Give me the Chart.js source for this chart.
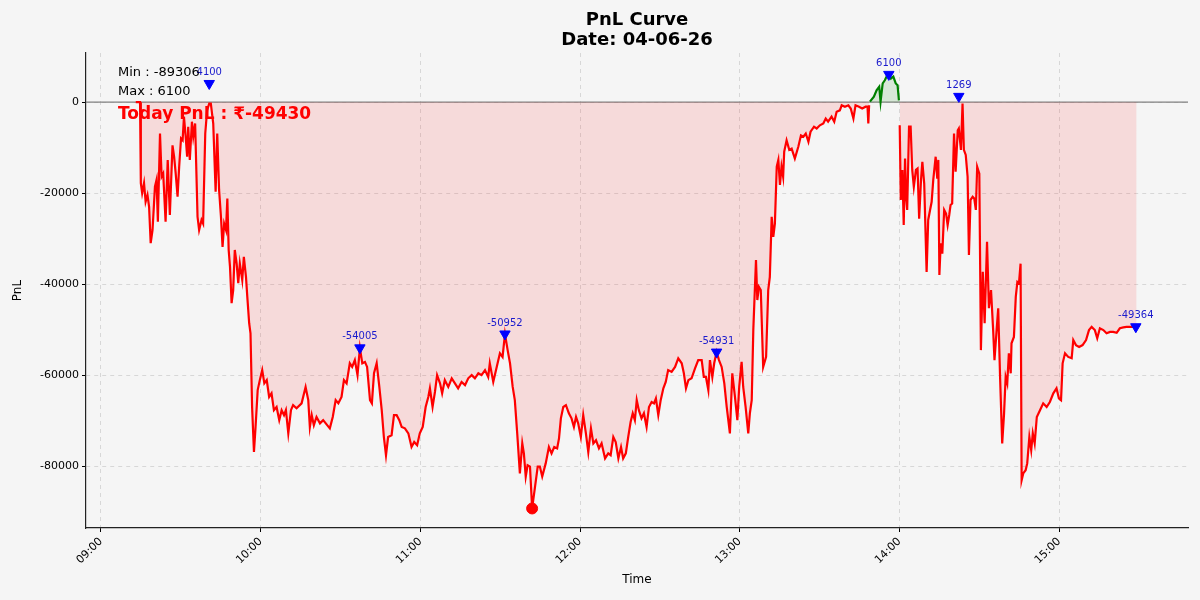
<!DOCTYPE html>
<html>
<head>
<meta charset="utf-8">
<script src="https://cdn.jsdelivr.net/npm/chart.js@4.4.1/dist/chart.umd.min.js"></script>
<style>
  html, body { margin: 0; padding: 0; background: #f5f5f5; }
  #wrap { width: 1200px; height: 600px; }
</style>
</head>
<body>
<div id="wrap"><canvas id="pnl-chart"></canvas></div>
<script>
// minutes after 09:00 and PnL at that moment
const minutes = [
  13.1, 14.7, 15.0, 15.5, 16.2, 16.8, 17.5, 18.1, 18.7, 19.4, 20.3, 20.9, 21.4, 22.2, 22.8, 23.4, 24.3, 25.1, 25.9, 26.9,
  27.5, 28.1, 28.8, 29.4, 30.1, 30.7, 31.2, 31.8, 32.4, 32.8, 33.4, 34.2, 34.7, 35.4, 36.3, 36.9, 37.8, 38.4, 39.2, 39.9,
  40.7, 41.3, 42.2, 43.1, 43.7, 44.4, 45.1, 45.7, 46.3, 47.0, 47.5, 48.0, 48.5, 49.1, 49.7, 50.3, 51.0, 51.6, 52.2, 53.1,
  53.7, 54.5, 55.0, 55.7, 56.2, 56.8, 57.5, 58.1, 58.9, 59.7, 60.6, 61.4, 62.3, 63.2, 64.1, 65.0, 66.0, 67.0, 67.9, 68.8,
  69.5, 70.4, 71.4, 72.2, 73.5, 75.4, 76.9, 77.9, 78.5, 79.2, 80.0, 81.0, 82.3, 83.5, 85.0, 86.0, 87.1, 88.2, 89.2, 90.4,
  91.3, 92.3, 93.5, 94.4, 95.4, 96.4, 97.3, 98.2, 99.2, 100.0, 101.1, 101.8, 102.6, 103.6, 104.6, 105.5, 106.3, 107.1, 107.9, 109.2,
  110.1, 111.1, 112.1, 113.0, 114.2, 115.5, 116.7, 117.7, 118.8, 119.8, 120.9, 122.0, 123.0, 123.6, 124.6, 125.5, 126.3, 127.4, 128.2, 129.2,
  130.5, 131.8, 133.0, 134.2, 135.5, 136.8, 138.0, 139.3, 140.5, 141.8, 143.0, 144.3, 145.5, 146.1, 147.4, 148.7, 149.9, 150.9, 151.8, 152.8,
  153.7, 154.7, 155.5, 156.4, 157.4, 158.3, 158.9, 159.6, 160.3, 161.2, 162.0, 163.1, 164.1, 164.9, 165.8, 167.1, 168.3, 169.3, 170.3, 171.4,
  172.1, 172.8, 173.7, 174.7, 175.8, 176.8, 177.7, 178.5, 179.3, 180.3, 181.2, 182.2, 183.1, 184.1, 185.0, 186.0, 187.1, 188.1, 189.4, 190.6,
  191.5, 192.5, 193.4, 194.4, 195.4, 196.2, 197.2, 198.1, 199.0, 199.8, 200.6, 201.3, 202.1, 203.1, 204.0, 205.0, 205.9, 206.9, 207.8, 208.5,
  209.4, 210.3, 211.3, 212.2, 213.1, 214.4, 215.7, 216.9, 218.2, 219.0, 219.8, 220.7, 221.9, 223.2, 224.4, 225.7, 226.5, 227.3, 228.2, 228.8,
  229.7, 230.4, 231.3, 232.2, 233.2, 234.2, 235.1, 236.3, 237.2, 238.2, 239.1, 239.8, 240.7, 241.3, 242.2, 243.2, 243.8, 244.5, 245.1, 246.1,
  246.6, 247.2, 247.9, 248.8, 249.9, 250.7, 251.3, 252.0, 252.6, 253.2, 253.9, 254.5, 255.1, 255.7, 256.3, 256.7, 257.6, 258.6, 259.5, 260.7,
  262.0, 263.0, 263.9, 264.8, 265.8, 266.6, 267.9, 268.9, 270.1, 271.4, 272.3, 273.2, 274.5, 275.5, 276.4, 277.6, 278.3, 279.5, 280.8, 281.7,
  282.7, 283.5, 284.8, 286.0, 287.3, 288.0, 288.3, 288.6, 288.9, 290.4, 291.4, 292.4, 292.9, 293.7, 294.5, 295.4, 296.0, 296.8, 297.7, 298.6,
  299.3, 299.8, 300.1, 300.5, 301.1, 301.6, 302.1, 302.5, 302.9, 303.6, 304.2, 304.8, 305.4, 306.2, 306.8, 307.4, 308.1, 308.6, 309.3, 310.2,
  310.8, 311.5, 312.1, 312.7, 313.6, 314.2, 314.6, 315.0, 315.5, 316.1, 316.8, 317.5, 318.1, 318.7, 319.2, 319.8, 320.5, 321.1, 321.9, 322.3,
  323.1, 323.7, 324.2, 324.9, 325.6, 326.1, 326.7, 327.5, 328.1, 328.7, 329.2, 330.0, 330.6, 331.3, 332.0, 332.9, 333.6, 334.4, 335.2, 335.7,
  336.5, 337.1, 337.8, 338.6, 339.3, 339.9, 340.5, 341.1, 341.8, 342.1, 343.0, 343.7, 344.3, 344.9, 345.5, 345.9, 346.5, 347.4, 348.0, 348.8,
  349.5, 350.1, 350.8, 351.6, 352.8, 354.0, 355.3, 356.5, 357.8, 359.0, 359.9, 360.7, 361.3, 362.2, 363.4, 364.7, 365.3, 366.3, 367.5, 368.8,
  370.1, 371.2, 372.2, 373.4, 374.3, 375.3, 376.6, 377.8, 379.1, 380.3, 381.6, 382.8, 384.1, 385.3, 386.6, 387.8, 389.1
];
const pnl = [
  0, 0, -17800, -20000, -17800, -21900, -20400, -23000, -31000, -28100, -18600, -17100, -26300, -6900, -16400, -15700, -26300, -12700, -24800, -9500,
  -12000, -15700, -20800, -14200, -8000, -8400, -3200, -7300, -12000, -5400, -12700, -4300, -7600, -4700, -25200, -28100, -25900, -26700, -6900, -1800,
  -300, -300, -4700, -19700, -6900, -19300, -25200, -31800, -26700, -28100, -21200, -32500, -36200, -44200, -41300, -32500, -35500, -39800, -35500, -39100,
  -34000, -38400, -42800, -48600, -50800, -67000, -76900, -71400, -63300, -61100, -58900, -61800, -61100, -64800, -64000, -67700, -67000, -69900, -67700, -68800,
  -67700, -72800, -67700, -66600, -67300, -66200, -62600, -65500, -71400, -68800, -71000, -69200, -70600, -69900, -71000, -71700, -69200, -65500, -66200, -64800,
  -61100, -61800, -57400, -58200, -56700, -60000, -54005, -57400, -57100, -58200, -65500, -66200, -59600, -57400, -62600, -67700, -73600, -77600, -73600, -73200,
  -68800, -68800, -69900, -71400, -71700, -72800, -75800, -74700, -75400, -72800, -71400, -67000, -64800, -62900, -67000, -63700, -60000, -61800, -64000, -61100,
  -62600, -60700, -61800, -62900, -61500, -62200, -60700, -60000, -60700, -59600, -60000, -58900, -60400, -57400, -61500, -58200, -55200, -56000, -50952, -54500,
  -57400, -62600, -65500, -72800, -81600, -75000, -77200, -82300, -79800, -80100, -89306, -84500, -80100, -80100, -82300, -79400, -75800, -77200, -75800, -76100,
  -73900, -69500, -67000, -66600, -68400, -69500, -71400, -69200, -70600, -73600, -68800, -72800, -76900, -71700, -75000, -74300, -76100, -75000, -78300, -77200,
  -77600, -73600, -74700, -78300, -75800, -78300, -77200, -73600, -70300, -68400, -69900, -65500, -67700, -69500, -68400, -71400, -67000, -65900, -66200, -65100,
  -68800, -65500, -62900, -61500, -58900, -59300, -58200, -56300, -57400, -59600, -62900, -61100, -60700, -58500, -56700, -56700, -60400, -60400, -63300, -56700,
  -60400, -57400, -54931, -56700, -58200, -61800, -67000, -72800, -59600, -64800, -69900, -62600, -57100, -62600, -67000, -72800, -68400, -65500, -50000, -34700,
  -43500, -40600, -41300, -58200, -56000, -41300, -38400, -25200, -29600, -26700, -14200, -12700, -18200, -14200, -16400, -10900, -8400, -10500, -10200, -12400,
  -9800, -7300, -7600, -6900, -8700, -6500, -5400, -5800, -5100, -4700, -3600, -4300, -3200, -4300, -2100, -1800, -700, -1000, -700, -1400,
  -3600, -700, -1000, -1400, -1000, -1000, -4700, -700, 100, 1200, 2600, 3400, 100, 4100, 4800, 5900, 6100, 5200, 5600, 4100,
  3700, 400, -5100, -21500, -14900, -27000, -12400, -20800, -23700, -5400, -5400, -14900, -18600, -14900, -14600, -25600, -17100, -13100, -17900, -37300,
  -25900, -23700, -21900, -17100, -12000, -16800, -12700, -38000, -31000, -33300, -23700, -24500, -27000, -24800, -22600, -22300, -6900, -15300, -6200, -5800,
  -10500, -300, -10500, -11600, -16400, -33600, -21500, -20800, -21200, -23700, -14200, -15700, -54500, -37300, -48600, -30700, -45300, -41300, -50100, -56700,
  -50100, -45300, -60400, -75000, -68400, -60400, -61800, -55200, -59600, -53000, -51600, -42800, -39500, -39800, -35500, -83100, -81600, -80900, -79400, -73600,
  -76500, -72800, -75000, -69200, -67700, -66200, -67000, -65900, -64000, -62900, -65100, -65500, -57400, -55200, -56000, -56300, -52300, -53400, -53800, -53400,
  -52300, -50100, -49400, -50100, -51900, -49700, -50100, -50800, -50500, -50500, -50700, -49700, -49500, -49400, -49400, -49364, -49430
];

// local peaks marked with a blue triangle
const peakMinutes = [40.7, 97.3, 151.8, 231.3, 296.0, 322.3, 388.8];
const peakValues = [4100, -54005, -50952, -54931, 6100, 1269, -49364];

const minMinute = 162.0;
const minPnl = -89306;
const maxPnl = 6100;
const todayPnl = -49430;

const xTickMinutes = [0, 60, 120, 180, 240, 300, 360];
const yTickValues = [0, -20000, -40000, -60000, -80000];

const fmtTime = function (m) {
    const t = 9 * 60 + Math.round(m);
    return String(Math.floor(t / 60)).padStart(2, '0') + ':' + String(t % 60).padStart(2, '0');
};

const redPts = minutes.map((m, i) => ({ x: m, y: pnl[i] <= 0 ? pnl[i] : null }));
const greenPts = minutes.map((m, i) => ({ x: m, y: pnl[i] > 0 ? pnl[i] : null }));
const peakPts = peakMinutes.map((m, i) => ({ x: m, y: peakValues[i] }));

const FONT = '"DejaVu Sans", "Liberation Sans", sans-serif';

const textPlugin = {
    id: 'pnlText',
    beforeDatasetsDraw(chart) {
        const { ctx, chartArea, scales } = chart;
        const y0 = scales.y.getPixelForValue(0);
        ctx.save();
        ctx.strokeStyle = '#808080';
        ctx.lineWidth = 1.2;
        ctx.beginPath();
        ctx.moveTo(chartArea.left, y0);
        ctx.lineTo(chartArea.right, y0);
        ctx.stroke();
        ctx.restore();
    },
    afterDraw(chart) {
        const { ctx, chartArea } = chart;
        const cx = (chartArea.left + chartArea.right) / 2;
        ctx.save();
        ctx.textBaseline = 'middle';

        // peak labels
        const meta = chart.getDatasetMeta(2);
        ctx.fillStyle = '#1a1acc';
        ctx.font = '10px ' + FONT;
        ctx.textAlign = 'center';
        meta.data.forEach((pt, i) => {
            ctx.fillText(String(peakValues[i]), pt.x, pt.y - 11);
        });

        // title
        ctx.fillStyle = '#000';
        ctx.font = 'bold 18px ' + FONT;
        ctx.fillText('PnL Curve', cx, 20);
        ctx.fillText('Date: 04-06-26', cx, 40);

        // info box
        ctx.textAlign = 'left';
        ctx.font = '13px ' + FONT;
        ctx.fillText('Min : ' + minPnl, chartArea.left + 32, 73);
        ctx.fillText('Max : ' + maxPnl, chartArea.left + 32, 92);
        ctx.fillStyle = '#ff0000';
        ctx.font = 'bold 17px ' + FONT;
        ctx.fillText('Today PnL : \u20B9' + todayPnl, chartArea.left + 32, 115);

        // axis titles
        ctx.fillStyle = '#000';
        ctx.font = '12px ' + FONT;
        ctx.textAlign = 'center';
        ctx.fillText('Time', cx, 580);
        ctx.translate(18, (chartArea.top + chartArea.bottom) / 2);
        ctx.rotate(-Math.PI / 2);
        ctx.fillText('PnL', 0, 0);
        ctx.restore();
    }
};

new Chart(document.getElementById('pnl-chart'), {
    type: 'line',
    data: {
        datasets: [
            {
                label: 'loss',
                data: redPts,
                borderColor: '#ff0000',
                backgroundColor: 'rgba(255, 0, 0, 0.11)',
                borderWidth: 2.2,
                pointRadius: 0,
                tension: 0,
                spanGaps: false,
                fill: { value: 0 },
                order: 2
            },
            {
                label: 'profit',
                data: greenPts,
                borderColor: '#008000',
                backgroundColor: 'rgba(0, 128, 0, 0.12)',
                borderWidth: 2.2,
                pointRadius: 0,
                tension: 0,
                spanGaps: false,
                fill: { value: 0 },
                order: 2
            },
            {
                label: 'peaks',
                data: peakPts,
                showLine: false,
                pointStyle: 'triangle',
                rotation: 180,
                pointRadius: 6,
                pointBackgroundColor: '#0000ff',
                pointBorderColor: '#0000ff',
                order: 1
            },
            {
                label: 'min',
                data: [{ x: minMinute, y: minPnl }],
                showLine: false,
                pointStyle: 'circle',
                pointRadius: 5.5,
                pointBackgroundColor: '#ff0000',
                pointBorderColor: '#ff0000',
                order: 0
            }
        ]
    },
    options: {
        responsive: true,
        maintainAspectRatio: false,
        animation: false,
        events: [],
        layout: {
            padding: { left: 0, right: 12, top: 53, bottom: 0 }
        },
        plugins: {
            legend: { display: false },
            title: { display: false },
            tooltip: { enabled: false }
        },
        scales: {
            x: {
                type: 'linear',
                min: -5.6,
                max: 408.4,
                afterBuildTicks: (s) => { s.ticks = xTickMinutes.map(v => ({ value: v })); },
                afterFit: (s) => { s.height = 72; },
                ticks: {
                    minRotation: 45,
                    maxRotation: 45,
                    color: '#000',
                    font: { family: FONT, size: 11 },
                    callback: (v) => fmtTime(v)
                },
                grid: {
                    color: 'rgba(0, 0, 0, 0.12)',
                    tickColor: '#000',
                    tickLength: 4,
                    drawOnChartArea: true
                },
                border: { color: '#222', width: 1.2, dash: [4, 4], dashOffset: 0 }
            },
            y: {
                min: -93600,
                max: 10800,
                afterBuildTicks: (s) => { s.ticks = yTickValues.map(v => ({ value: v })); },
                afterFit: (s) => { s.width = 86; },
                ticks: {
                    color: '#000',
                    font: { family: FONT, size: 11 },
                    callback: (v) => String(v)
                },
                grid: {
                    color: 'rgba(0, 0, 0, 0.12)',
                    tickColor: '#000',
                    tickLength: 4
                },
                border: { color: '#222', width: 1.2, dash: [4, 4] }
            }
        }
    },
    plugins: [textPlugin]
});
</script>
</body>
</html>
